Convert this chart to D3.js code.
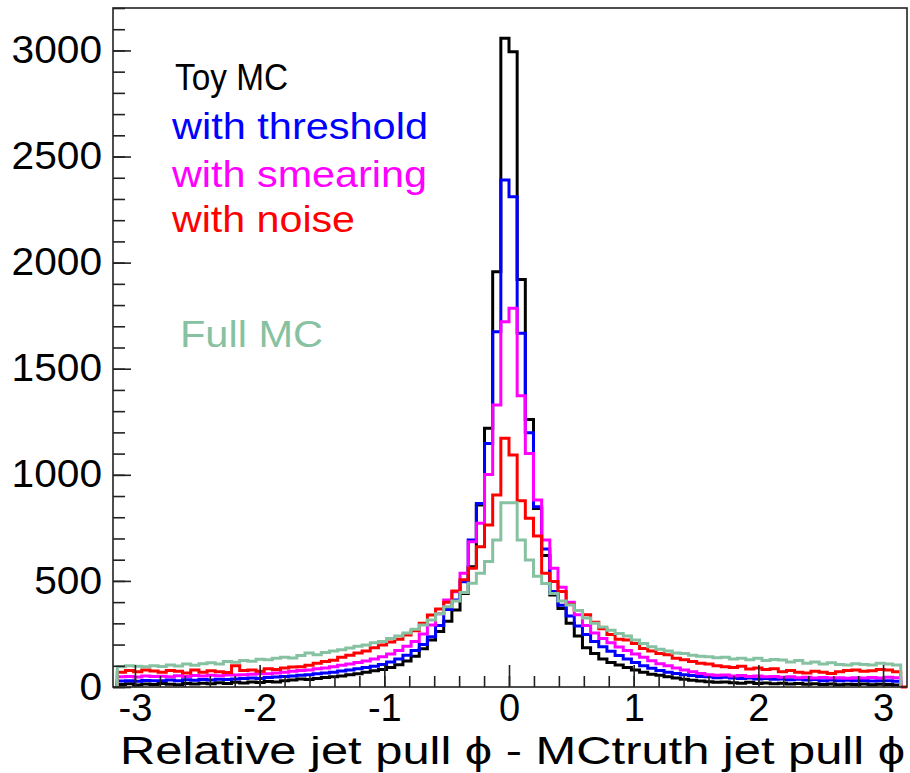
<!DOCTYPE html>
<html><head><meta charset="utf-8">
<script src="https://cdn.jsdelivr.net/npm/d3@7"></script>
<style>
html,body{margin:0;padding:0;background:#fff;}
svg text{font-family:"Liberation Sans",Arial,Helvetica,sans-serif;}
</style></head>
<body><svg id="c" width="910" height="773"></svg>
<script>
// ---- data (counts per bin, 96 bins spanning -pi..pi) ----
const nBins = 96;
const toyMC = [12,15,10,14,12,16,13,11,17,14,18,15,20,17,22,19,24,21,26,24,30,33,38,35,40,45,48,52,58,62,70,76,82,92,105,122,145,180,221,262,310,363,441,567,858,1219,1957,3057,2994,1921,1261,841,620,434,370,300,240,185,158,132,115,104,92,80,70,60,55,48,42,36,32,28,25,22,24,20,18,22,17,19,15,18,14,16,13,15,12,14,11,13,12,14,11,13,12,10];
const withThreshold = [28,30,27,31,29,30,33,30,34,32,35,33,37,35,38,40,42,40,45,47,50,52,55,58,62,66,70,75,80,86,92,98,106,118,132,150,172,200,237,290,365,410,496,693,865,1148,1674,2389,2311,1667,1198,850,650,450,385,335,288,248,215,190,168,148,132,116,100,88,78,70,64,58,54,50,48,44,46,42,40,43,38,40,36,38,34,36,33,35,30,33,30,32,29,31,28,30,29,27];
const withSmearing = [48,50,47,52,49,51,48,53,50,54,52,55,53,57,56,58,60,62,63,66,70,74,78,80,86,90,96,102,108,115,122,132,143,155,172,192,215,250,292,345,410,449,536,685,772,1002,1329,1721,1785,1373,1101,881,693,560,470,400,340,290,255,228,208,188,172,156,140,124,110,100,90,80,72,64,58,55,56,52,54,50,52,48,50,46,48,44,46,43,45,42,44,41,44,42,45,43,46,44];
const withNoise = [70,78,72,80,75,70,78,74,66,80,70,76,72,68,100,78,80,74,86,82,90,94,96,102,112,120,126,140,150,160,170,185,198,212,225,245,265,300,339,368,400,452,505,560,661,763,905,1172,1093,878,795,712,536,497,450,390,360,340,305,275,248,225,222,205,182,170,158,152,135,128,120,112,108,100,96,92,98,85,90,82,86,72,78,70,66,74,70,64,72,78,80,74,76,82,80,72];
const fullMC = [95,100,98,95,100,97,104,99,108,103,110,114,108,120,117,125,121,131,128,136,140,137,148,160,152,163,170,176,184,192,198,208,214,228,240,255,272,292,316,345,378,405,445,489,536,592,693,868,868,693,598,522,488,441,405,386,360,325,300,283,268,252,240,222,205,190,178,170,160,158,150,145,143,138,140,132,135,128,136,125,130,127,118,125,112,118,108,114,106,104,110,106,104,112,108,104];

const seriesNames = ["Toy MC","with threshold","with smearing","with noise","Full MC"];
const seriesColors = ["#000000","#0000ff","#ff00ff","#ff0000","#86c2a2"];
const seriesData = [toyMC, withThreshold, withSmearing, withNoise, fullMC];

const yTickLabels = [0,500,1000,1500,2000,2500,3000];
const xTickLabels = [-3,-2,-1,0,1,2,3];
const xTitle = "Relative jet pull \u03D5 - MCtruth jet pull \u03D5";

// ---- layout ----
const L = 113, R = 907, T = 8, B = 687;
const svg = d3.select("#c");
const x = d3.scaleLinear().domain([-3.176, 3.192]).range([L, R]);
const y = d3.scaleLinear().domain([0, 3200]).range([B, T]);

const edges = d3.range(nBins + 1).map(i => -Math.PI + i * 2 * Math.PI / nBins);

function stepPath(vals) {
  const p = d3.path();
  p.moveTo(x(edges[0]), y(0));
  vals.forEach((v, i) => {
    p.lineTo(x(edges[i]), y(v));
    p.lineTo(x(edges[i + 1]), y(v));
  });
  p.lineTo(x(edges[nBins]), y(0));
  return p.toString();
}

const g = svg.append("g");
seriesData.forEach((vals, k) => {
  g.append("path")
    .attr("d", stepPath(vals))
    .attr("fill", "none")
    .attr("stroke", seriesColors[k])
    .attr("stroke-width", 3)
    .attr("stroke-linejoin", "miter");
});
// red baseline continuation to the frame edge
g.append("line").attr("x1", x(Math.PI)).attr("x2", R).attr("y1", y(0)).attr("y2", y(0))
  .attr("stroke", "#ff0000").attr("stroke-width", 3);

// frame
svg.append("rect").attr("x", L).attr("y", T).attr("width", R - L).attr("height", B - T)
  .attr("fill", "none").attr("stroke", "#222").attr("stroke-width", 1.6);

// y axis
const yMinor = svg.append("g").attr("transform", `translate(${L},0)`)
  .call(d3.axisLeft(y).tickValues(d3.range(0, 3201, 100)).tickSize(-12).tickFormat(""));
const yMajor = svg.append("g").attr("transform", `translate(${L},0)`)
  .call(d3.axisLeft(y).tickValues(yTickLabels).tickSize(-18).tickPadding(11).tickFormat(d3.format("d")));
// x axis
const xMinor = svg.append("g").attr("transform", `translate(0,${B})`)
  .call(d3.axisBottom(x).tickValues(d3.range(-3.0, 3.01, 0.2)).tickSize(-11).tickFormat(""));
const xMajor = svg.append("g").attr("transform", `translate(0,${B})`)
  .call(d3.axisBottom(x).tickValues(xTickLabels).tickSize(-22).tickPadding(7).tickFormat(d3.format("d")));

[yMinor, yMajor, xMinor, xMajor].forEach(a => {
  a.select(".domain").remove();
  a.selectAll(".tick line").attr("stroke", "#222").attr("stroke-width", 1.6);
  a.selectAll("text").attr("fill", "#000").style("font-size", "38px")
    .style("font-family", '"Liberation Sans", Arial, sans-serif');
});
xMajor.selectAll("text").text(d => d < 0 ? "-" + Math.abs(d) : String(d));
yMajor.selectAll("text").each(function () {
  const len = this.getComputedTextLength();
  d3.select(this).attr("textLength", len * 1.07).attr("lengthAdjust", "spacingAndGlyphs");
});

// axis title
svg.append("text").attr("x", 905).attr("y", 764).attr("text-anchor", "end")
  .style("font-size", "38px").attr("fill", "#000")
  .attr("textLength", 785).attr("lengthAdjust", "spacingAndGlyphs").text(xTitle);

// legend texts
const legendPos = [[175, 90], [172, 139], [172, 187], [172, 232], [180, 347]];
const legendLen = [113, 256, 255, 183, 143];
seriesNames.forEach((n, k) => {
  svg.append("text").attr("x", legendPos[k][0]).attr("y", legendPos[k][1])
    .style("font-size", "36px").attr("fill", seriesColors[k])
    .attr("textLength", legendLen[k]).attr("lengthAdjust", "spacingAndGlyphs").text(n);
});
</script></body></html>
